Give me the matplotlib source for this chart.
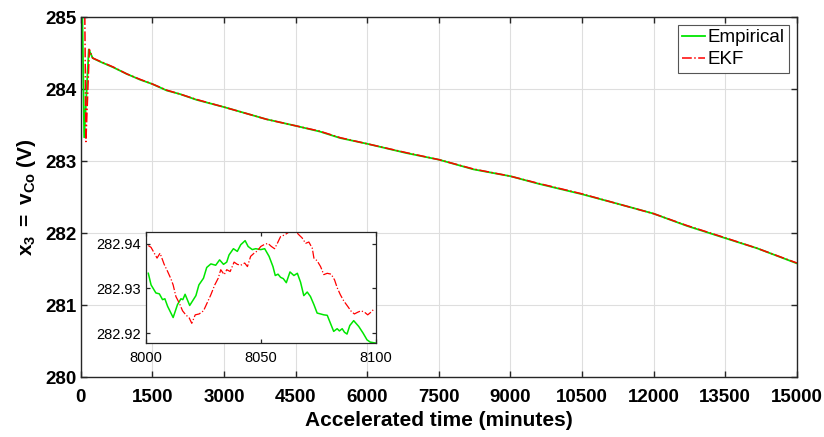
import matplotlib
matplotlib.use("Agg")
import matplotlib.pyplot as plt
import numpy as np

plt.rcParams["font.family"] = ["Liberation Sans", "DejaVu Sans"]
plt.rcParams["mathtext.fontset"] = "custom"
plt.rcParams["mathtext.rm"] = "Liberation Sans"
plt.rcParams["mathtext.bf"] = "Liberation Sans:bold"
plt.rcParams["mathtext.it"] = "Liberation Sans:italic"

# main curve (minutes, volts)
emp_t = [0, 30, 72, 168, 250, 406, 685, 964, 1243, 1500, 1801, 2080, 2429,
         3000, 3474, 3893, 4500, 5008, 5435, 6000, 6832, 7500, 8227, 9000,
         9590, 10500, 11232, 12000, 12699, 13500, 14165, 15000]
emp_v = [286.5, 285.2, 283.33, 284.55, 284.43, 284.38, 284.30, 284.21,
         284.13, 284.07, 283.98, 283.93, 283.85, 283.75, 283.66, 283.58,
         283.49, 283.41, 283.32, 283.24, 283.11, 283.02, 282.885, 282.79,
         282.685, 282.54, 282.41, 282.27, 282.10, 281.93, 281.79, 281.58]
ekf_t = [0, 80, 108, 180, 250, 406, 685, 964, 1243, 1500, 1801, 2080, 2429,
         3000, 3474, 3893, 4500, 5008, 5435, 6000, 6832, 7500, 8227, 9000,
         9590, 10500, 11232, 12000, 12699, 13500, 14165, 15000]
ekf_v = [287.0, 285.4, 283.27, 284.55, 284.43, 284.385, 284.305, 284.21,
         284.135, 284.07, 283.985, 283.93, 283.855, 283.75, 283.66, 283.58,
         283.49, 283.415, 283.325, 283.24, 283.115, 283.02, 282.89, 282.79,
         282.69, 282.545, 282.41, 282.27, 282.105, 281.935, 281.79, 281.585]

# zoomed window 8000-8100 min
ins_emp_t = [8001, 8002.2, 8004.3, 8005.8, 8007.2, 8008.2, 8009.4, 8011.8,
             8013.7, 8015.2, 8016, 8017, 8019, 8021.7, 8023, 8025, 8026.4,
             8028.2, 8030.3, 8032, 8033.7, 8035.1, 8036.1, 8038, 8039.7,
             8041.2, 8043.1, 8044.4, 8046.2, 8047.7, 8049.9, 8051.6, 8053.5,
             8055.2, 8056.2, 8057.4, 8058.5, 8059.7, 8061, 8062.6, 8064.3,
             8065.8, 8067.2, 8068.6, 8070.1, 8071.5, 8073, 8074.4, 8075.9,
             8077.3, 8078.8, 8080.2, 8081.6, 8083.1, 8084.1, 8085.3, 8086.3,
             8087.4, 8088.6, 8090.3, 8092.5, 8094.4, 8096.1, 8097.5, 8099.7]
ins_emp_v = [282.9334, 282.9308, 282.9290, 282.9288, 282.9275, 282.9277,
             282.9260, 282.9235, 282.9264, 282.9277, 282.9275, 282.9287,
             282.9262, 282.9284, 282.9308, 282.9323, 282.9347, 282.9355,
             282.9352, 282.9364, 282.9354, 282.9359, 282.9375, 282.9389,
             282.9383, 282.9398, 282.9407, 282.9394, 282.9387, 282.9389,
             282.9387, 282.9389, 282.9372, 282.9349, 282.9329, 282.9332,
             282.9325, 282.9322, 282.9313, 282.9337, 282.9329, 282.9334,
             282.9314, 282.9284, 282.9292, 282.9282, 282.9264, 282.9245,
             282.9243, 282.9241, 282.9240, 282.9222, 282.9204, 282.9210,
             282.9205, 282.9210, 282.9202, 282.9198, 282.9217, 282.9228,
             282.9215, 282.9200, 282.9185, 282.9180, 282.9178]
ins_ekf_t = [8001, 8002.2, 8003.6, 8004.8, 8006.1, 8006.9, 8007.9, 8009.4,
             8010.8, 8011.8, 8013, 8014.5, 8015.9, 8017.3, 8018.8, 8019.9,
             8021.4, 8023.1, 8025, 8026.7, 8028.2, 8029.9, 8031.4, 8032.5,
             8034, 8035.1, 8036.6, 8038.3, 8039.7, 8041.2, 8042.9, 8044.1,
             8045.5, 8047, 8048.4, 8049.9, 8051.3, 8053, 8054.5, 8055.9,
             8057.1, 8058.5, 8060.3, 8062.1, 8063.6, 8065, 8066.5, 8067.9,
             8069.4, 8070.8, 8072.3, 8073, 8074.4, 8075.9, 8077.3, 8078.8,
             8080.5, 8082, 8083.1, 8084.5, 8086, 8087.7, 8089.2, 8090.6,
             8092.1, 8093.5, 8095, 8096.4, 8097.8, 8099.3]
ins_ekf_v = [282.9396, 282.9392, 282.9379, 282.9368, 282.9379, 282.9368,
             282.9354, 282.9338, 282.9322, 282.9308, 282.9282, 282.9267,
             282.9250, 282.9241, 282.9234, 282.9222, 282.9241, 282.9243,
             282.9250, 282.9269, 282.9286, 282.9308, 282.9323, 282.9342,
             282.9331, 282.9342, 282.9338, 282.9359, 282.9354, 282.9352,
             282.9357, 282.9349, 282.9372, 282.9379, 282.9384, 282.9394,
             282.9398, 282.9401, 282.9394, 282.9389, 282.9401, 282.9416,
             282.9420, 282.9426, 282.9429, 282.9428, 282.9420, 282.9413,
             282.9401, 282.9404, 282.9390, 282.9368, 282.9362, 282.9349,
             282.9331, 282.9334, 282.9332, 282.9319, 282.9302, 282.9286,
             282.9272, 282.9260, 282.9249, 282.9243, 282.9247, 282.9250,
             282.9247, 282.9241, 282.9247, 282.9255]

x_ticks = np.arange(0, 15001, 1500)
y_ticks = [280, 281, 282, 283, 284, 285]

GREEN = "#00e600"
RED = "#ff0000"
EDGE = "#262626"


def matlab_box(ax, width=1.0):
    for s in ax.spines.values():
        s.set_color(EDGE)
        s.set_linewidth(width)
    ax.tick_params(direction="in", top=True, right=True, color=EDGE,
                   length=4, width=width)


fig = plt.figure(figsize=(8.24, 4.37), dpi=100)
ax = fig.add_axes([0.098, 0.137, 0.869, 0.824])
ax.plot(emp_t, emp_v, color=GREEN, lw=1.3, label="Empirical")
ax.plot(ekf_t, ekf_v, color=RED, lw=1.1, ls="-.", label="EKF")
ax.set_xlim(0, 15000)
ax.set_ylim(280, 285)
ax.set_xticks(x_ticks)
ax.set_yticks(y_ticks)
ax.grid(True, color="#dedede", lw=0.8)
matlab_box(ax)
for lab in ax.get_xticklabels() + ax.get_yticklabels():
    lab.set_fontweight("bold")
    lab.set_fontsize(13.5)
ax.tick_params(axis="x", pad=8.5)
ax.tick_params(axis="y", pad=3)
ax.set_xlabel("Accelerated time (minutes)", fontsize=15, fontweight="bold",
              labelpad=4)
ax.set_ylabel(r"$\mathbf{x_3}$ $\mathbf{=}$ $\mathbf{v_{Co}}$ (V)",
              fontsize=15, fontweight="bold", labelpad=5)
leg = ax.legend(loc="upper right", fontsize=13.5, fancybox=False,
                framealpha=1, edgecolor="#555555", handlelength=1.2,
                handletextpad=0.15, borderpad=0.25, labelspacing=0.25,
                borderaxespad=0.4)
leg.get_frame().set_linewidth(0.8)

ins = fig.add_axes([146 / 824, 94 / 437, 230 / 824, 111.5 / 437])
ins.plot(ins_emp_t, ins_emp_v, color=GREEN, lw=1.1)
ins.plot(ins_ekf_t, ins_ekf_v, color=RED, lw=0.9, ls="-.")
ins.set_xlim(8000, 8100)
ins.set_ylim(282.9178, 282.94275)
ins.set_xticks([8000, 8050, 8100])
ins.set_yticks([282.92, 282.93, 282.94])
ins.set_yticklabels(["282.92", "282.93", "282.94"])
matlab_box(ins, 0.9)
ins.tick_params(labelsize=10.5, length=3)
ins.tick_params(axis="x", pad=6)
ins.tick_params(axis="y", pad=4)

fig.savefig("out.png", dpi=100)
